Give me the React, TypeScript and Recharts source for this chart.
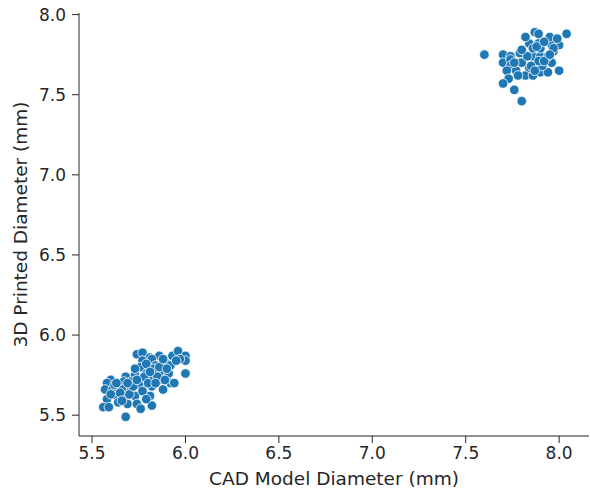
import { ScatterChart, Scatter, XAxis, YAxis, Label } from 'recharts';

// CAD model diameter (mm) vs measured 3D printed diameter (mm)
const cadSmall = [
  5.74, 5.77, 5.81, 5.86, 5.93, 5.96, 6.0, 6.0, 5.77, 5.82,
  5.89, 5.84, 5.76, 5.92, 5.97, 6.0, 5.73, 5.79, 5.86, 5.91,
  5.68, 5.71, 5.76, 5.81, 5.87, 5.92, 5.94, 5.6, 5.67, 5.58,
  5.57, 5.61, 5.66, 5.71, 5.77, 5.82, 5.88, 5.58, 5.63, 5.68,
  5.73, 5.81, 5.64, 5.69, 5.74, 5.76, 5.82, 5.56, 5.59, 5.68,
  5.78, 5.83, 5.8, 5.75, 5.7, 5.65, 5.62, 5.72, 5.79, 5.86,
  5.88, 5.85, 5.74, 5.69, 5.6, 5.63, 5.77, 5.84, 5.9, 5.81,
  5.73, 5.66, 5.95, 5.89, 5.79,
];
const printSmall = [
  5.88, 5.89, 5.86, 5.87, 5.87, 5.9, 5.87, 5.84, 5.84, 5.85,
  5.83, 5.81, 5.8, 5.81, 5.85, 5.76, 5.75, 5.76, 5.76, 5.76,
  5.74, 5.71, 5.71, 5.72, 5.72, 5.7, 5.7, 5.72, 5.71, 5.7,
  5.66, 5.66, 5.66, 5.66, 5.68, 5.68, 5.66, 5.6, 5.62, 5.62,
  5.62, 5.62, 5.58, 5.57, 5.57, 5.54, 5.56, 5.55, 5.55, 5.49,
  5.74, 5.79, 5.7, 5.69, 5.63, 5.64, 5.69, 5.68, 5.82, 5.8,
  5.85, 5.74, 5.72, 5.7, 5.63, 5.7, 5.65, 5.7, 5.79, 5.77,
  5.79, 5.59, 5.84, 5.72, 5.6,
];

const cadLarge = [
  7.6, 7.7, 7.74, 7.79, 7.7, 7.74, 7.79, 7.74, 7.77, 7.72,
  7.73, 7.7, 7.76, 7.8, 7.82, 7.86, 7.9, 7.94, 8.0, 7.86,
  7.91, 7.96, 7.86, 7.9, 7.94, 7.97, 7.84, 7.89, 7.96, 8.0,
  7.82, 7.87, 7.89, 7.95, 7.99, 8.04, 7.86, 7.9, 7.97, 7.89,
  7.92, 7.84, 7.8, 7.83, 7.85, 7.76, 7.88, 7.92, 7.8, 7.87,
  7.78, 7.95,
];
const printLarge = [
  7.75, 7.75, 7.74, 7.76, 7.7, 7.72, 7.7, 7.68, 7.65, 7.65,
  7.6, 7.57, 7.53, 7.46, 7.62, 7.62, 7.64, 7.64, 7.65, 7.66,
  7.68, 7.7, 7.74, 7.74, 7.74, 7.77, 7.82, 7.82, 7.81, 7.81,
  7.86, 7.89, 7.88, 7.86, 7.85, 7.88, 7.79, 7.79, 7.79, 7.71,
  7.71, 7.67, 7.7, 7.74, 7.68, 7.7, 7.8, 7.83, 7.78, 7.65,
  7.62, 7.75,
];

const xTicks = [5.5, 6.0, 6.5, 7.0, 7.5, 8.0];
const yTicks = [5.5, 6.0, 6.5, 7.0, 7.5, 8.0];

const points = [
  ...cadSmall.map((x, i) => ({ cad: x, printed: printSmall[i] })),
  ...cadLarge.map((x, i) => ({ cad: x, printed: printLarge[i] })),
];

const tickFont = { fontFamily: 'DejaVu Sans', fontSize: 17, fill: '#262626' };
const labelFont = { fontFamily: 'DejaVu Sans', fontSize: 18.5, fill: '#262626' };

const Dot = (props: any) => (
  <circle cx={props.cx} cy={props.cy} r={4.8} fill="#1f77b4" stroke="#fff" strokeWidth={0.8} />
);

export default function App() {
  return (
    <div style={{ position: 'absolute', left: 0, top: 0, background: '#fff' }}>
      <ScatterChart width={590} height={490} margin={{ top: 13, right: 1, bottom: 0, left: 0 }}>
        <XAxis
          xAxisId="top"
          orientation="top"
          type="number"
          dataKey="cad"
          domain={[5.43, 8.16]}
          allowDataOverflow
          height={0}
          tick={false}
          tickLine={false}
          axisLine={{ stroke: '#262626' }}
        />
        <YAxis
          yAxisId="right"
          orientation="right"
          type="number"
          dataKey="printed"
          domain={[5.37, 8.01]}
          allowDataOverflow
          width={0}
          tick={false}
          tickLine={false}
          axisLine={{ stroke: '#262626' }}
        />
        <XAxis
          type="number"
          dataKey="cad"
          domain={[5.43, 8.16]}
          allowDataOverflow
          ticks={xTicks}
          tickFormatter={(v) => v.toFixed(1)}
          tick={tickFont}
          tickSize={7}
          tickMargin={4}
          tickLine={{ stroke: '#262626' }}
          axisLine={{ stroke: '#262626' }}
          height={54}
        >
          <Label value="CAD Model Diameter (mm)" position="insideBottom" offset={5} style={labelFont} />
        </XAxis>
        <YAxis
          type="number"
          dataKey="printed"
          domain={[5.37, 8.01]}
          allowDataOverflow
          ticks={yTicks}
          tickFormatter={(v) => v.toFixed(1)}
          tick={tickFont}
          tickSize={7}
          tickMargin={6}
          tickLine={{ stroke: '#262626' }}
          axisLine={{ stroke: '#262626' }}
          width={79}
        >
          <Label
            value="3D Printed Diameter (mm)"
            angle={-90}
            position="insideLeft"
            offset={20}
            textAnchor="middle"
            style={labelFont}
          />
        </YAxis>
        <Scatter data={points} shape={Dot} isAnimationActive={false} />
      </ScatterChart>
    </div>
  );
}
